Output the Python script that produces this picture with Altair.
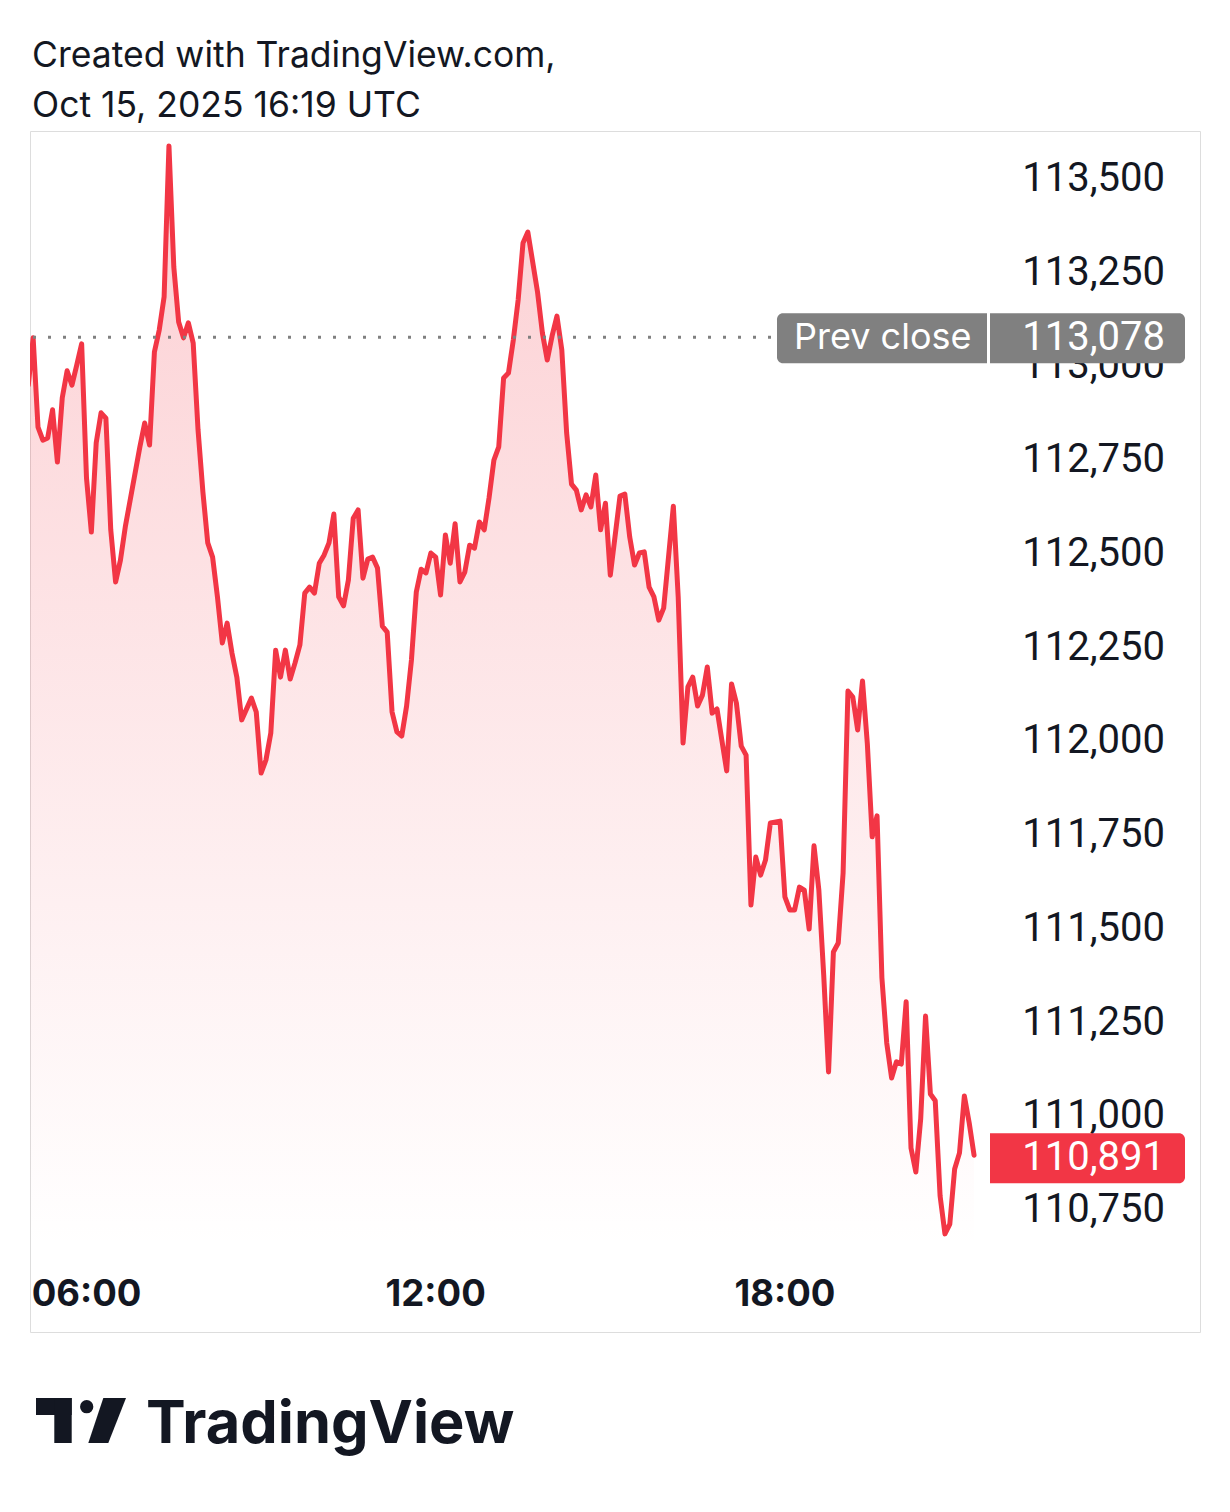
import altair as alt
import pandas as pd

# ---------------- data ----------------
times = [
    "05:00", "05:05", "05:10", "05:15", "05:20", "05:25", "05:30", "05:35", "05:40", "05:45", "05:50", "05:55",
    "06:00", "06:05", "06:10", "06:15", "06:20", "06:25", "06:30", "06:35", "06:40", "06:55",
    "07:00", "07:05", "07:10", "07:15", "07:20", "07:25", "07:30", "07:35", "07:40", "07:45", "07:50", "07:55",
    "08:00", "08:05", "08:10", "08:15", "08:20", "08:25", "08:30", "08:35", "08:40", "08:50", "08:55",
    "09:00", "09:05", "09:10", "09:15", "09:20", "09:25", "09:30", "09:35", "09:40", "09:45", "09:50", "09:55",
    "10:00", "10:05", "10:10", "10:15", "10:20", "10:25", "10:30", "10:35", "10:40", "10:45", "10:50", "10:55",
    "11:00", "11:05", "11:10", "11:15", "11:20", "11:25", "11:30", "11:35", "11:40", "11:45", "11:50", "11:55",
    "12:00", "12:05", "12:10", "12:15", "12:20", "12:25", "12:30", "12:35", "12:40", "12:45", "12:50", "12:55",
    "13:00", "13:05", "13:10", "13:15", "13:20", "13:25", "13:30", "13:35", "13:40", "13:45", "13:50", "13:55",
    "14:00", "14:05", "14:10", "14:15", "14:20", "14:25", "14:30", "14:35", "14:40", "14:45", "14:50", "14:55",
    "15:00", "15:10", "15:15", "15:20", "15:25", "15:30", "15:35", "15:40", "15:45", "15:50", "15:55",
    "16:00", "16:05", "16:10", "16:15", "16:20", "16:25", "16:30", "16:35", "16:40", "16:45", "16:50", "16:55",
    "17:00", "17:05", "17:10", "17:15", "17:20", "17:25", "17:30", "17:35", "17:40", "17:45", "17:55",
    "18:00", "18:05", "18:10", "18:15", "18:20", "18:25", "18:30", "18:35", "18:40", "18:45", "18:50", "18:55",
    "19:00", "19:05", "19:10", "19:15", "19:20", "19:25", "19:30", "19:35", "19:40", "19:45", "19:50", "19:55",
    "20:00", "20:05", "20:10", "20:15", "20:20", "20:25", "20:30", "20:35", "20:40", "20:45", "20:50", "20:55",
    "21:00", "21:05", "21:10", "21:15",
]
prices = [
    112945, 113071, 112833, 112798, 112804, 112879, 112740, 112911, 112983, 112945, 112999, 113055,
    112697, 112553, 112791, 112871, 112857, 112559, 112420, 112478, 112567, 112780,
    112844, 112785, 113033, 113092, 113180, 113583, 113260, 113113, 113071, 113111, 113057, 112825,
    112660, 112524, 112486, 112380, 112257, 112310, 112230, 112166, 112052, 112110, 112073,
    111910, 111945, 112017, 112238, 112166, 112238, 112161, 112204, 112252, 112390, 112406, 112390,
    112470, 112492, 112524, 112601, 112380, 112356, 112425, 112590, 112612, 112430, 112481, 112486,
    112457, 112302, 112286, 112073, 112020, 112009, 112089, 112212, 112393, 112454, 112444, 112497,
    112486, 112385, 112545, 112470, 112575, 112420, 112446, 112518, 112510, 112580, 112559, 112644,
    112745, 112780, 112964, 112977, 113065, 113172, 113324, 113353, 113273, 113193, 113084, 113012,
    113076, 113129, 113039, 112817, 112681, 112665, 112612, 112652, 112620, 112705, 112559, 112630,
    112438, 112649, 112654, 112540, 112465, 112497, 112500, 112406, 112380, 112318, 112350,
    112486, 112622, 112380, 111990, 112140, 112166, 112089, 112118, 112193, 112070, 112081, 111998,
    111916, 112148, 112097, 111982, 111958, 111558, 111686, 111638, 111678, 111777, 111782,
    111580, 111545, 111545, 111606, 111598, 111494, 111716, 111598, 111372, 111113, 111433, 111457,
    111644, 112129, 112113, 112025, 112156, 111988, 111740, 111796, 111364, 111190, 111097, 111140,
    111134, 111300, 110910, 110846, 110988, 111262, 111054, 111036, 110782, 110681, 110707, 110854,
    110897, 111049, 110977, 110891,
]
price_ticks = [110750, 111000, 111250, 111500, 111750, 112000,
               112250, 112500, 112750, 113000, 113250, 113500]
time_ticks = [6, 12, 18]
time_labels = ["06:00", "12:00", "18:00"]
prev_close = 113078
last_price = 110891
pane_bottom_price = 110640
prev_close_name = "Prev close"
header = ["Created with TradingView.com,", "Oct 15, 2025 16:19 UTC"]
brand = "TradingView"

# ---------------- style ----------------
RED = "#F23645"
GRAY = "#808080"
INK = "#131722"
FONT = "Inter"
NUMFONT = "Roboto"
W, H = 1170, 1201

df = pd.DataFrame({"time": times, "price": prices})
df["hour"] = df["time"].str.slice(0, 2).astype(int) + df["time"].str.slice(3, 5).astype(int) / 60

xs = alt.Scale(domain=[5.0292, 25.1323], nice=False, zero=False)
ys = alt.Scale(domain=[110419.3, 113622.7], nice=False, zero=False)
X = alt.X("hour:Q", scale=xs, axis=None)
Y = alt.Y("price:Q", scale=ys, axis=None)

grad = alt.Gradient(
    gradient="linear", x1=0, x2=0, y1=0, y2=1,
    stops=[alt.GradientStop(color="rgba(242,54,69,0.24)", offset=0),
           alt.GradientStop(color="rgba(242,54,69,0.0)", offset=1)],
)

area = alt.Chart(df).mark_area(clip=True, color=grad).encode(
    x=X, y=Y, y2=alt.Y2(datum=pane_bottom_price))
line = alt.Chart(df).mark_line(clip=True, color=RED, strokeWidth=5,
                               strokeJoin="round", strokeCap="round").encode(x=X, y=Y)

ticks_df = pd.DataFrame({"price": price_ticks, "label": [f"{v:,}" for v in price_ticks]})
ptext = alt.Chart(ticks_df).mark_text(align="right", baseline="middle", font=NUMFONT, dy=2,
                                      fontSize=40, color=INK).encode(
    y=Y, x=alt.value(1135), text="label:N")

tdf = pd.DataFrame({"hour": time_ticks, "label": time_labels})
ttext = alt.Chart(tdf).mark_text(align="center", baseline="alphabetic", font=FONT,
                                 fontWeight="bold", fontSize=36.5, color=INK).encode(
    x=X, y=alt.value(1175), text="label:N")

pc = pd.DataFrame({"price": [prev_close], "label": [f"{prev_close:,}"], "name": [prev_close_name]})
pc_rule = alt.Chart(pc).mark_rule(strokeDash=[3, 12], strokeWidth=3, color=GRAY, yOffset=2).encode(
    y=Y, x=alt.value(3), x2=alt.value(747))
pc_box1 = alt.Chart(pc).mark_rect(color=GRAY, yOffset=-22, y2Offset=28,
                                  cornerRadiusTopLeft=6, cornerRadiusBottomLeft=6).encode(
    y=Y, y2=alt.Y2("price"), x=alt.value(747), x2=alt.value(957))
pc_box2 = alt.Chart(pc).mark_rect(color=GRAY, yOffset=-22, y2Offset=28,
                                  cornerRadiusTopRight=6, cornerRadiusBottomRight=6).encode(
    y=Y, y2=alt.Y2("price"), x=alt.value(960), x2=alt.value(1155))
pc_t1 = alt.Chart(pc).mark_text(align="left", baseline="middle", font=FONT, fontSize=36, dy=3,
                                color="white").encode(y=Y, x=alt.value(764), text="name:N")
pc_t2 = alt.Chart(pc).mark_text(align="right", baseline="middle", font=NUMFONT, fontSize=40, dy=3,
                                color="white").encode(y=Y, x=alt.value(1135), text="label:N")

lp = pd.DataFrame({"price": [last_price], "label": [f"{last_price:,}"]})
lp_box = alt.Chart(lp).mark_rect(color=RED, yOffset=-22, y2Offset=28,
                                 cornerRadiusTopRight=6, cornerRadiusBottomRight=6).encode(
    y=Y, y2=alt.Y2("price"), x=alt.value(960), x2=alt.value(1155))
lp_t = alt.Chart(lp).mark_text(align="right", baseline="middle", font=NUMFONT, fontSize=40, dy=3,
                               color="white").encode(y=Y, x=alt.value(1135), text="label:N")

h1 = alt.Chart(pd.DataFrame({"t": [header[0]]})).mark_text(
    align="left", baseline="alphabetic", font=FONT, fontSize=35.5, color=INK).encode(
    x=alt.value(2), y=alt.value(-64), text="t:N")
h2 = alt.Chart(pd.DataFrame({"t": [header[1]]})).mark_text(
    align="left", baseline="alphabetic", font=FONT, fontSize=35.5, color=INK).encode(
    x=alt.value(2), y=alt.value(-14), text="t:N")

one = pd.DataFrame({"a": [0]})
logo_bar = alt.Chart(one).mark_rect(color=INK).encode(
    x=alt.value(6), x2=alt.value(41.7), y=alt.value(1267), y2=alt.value(1284))
logo_stem = alt.Chart(one).mark_rect(color=INK).encode(
    x=alt.value(24.3), x2=alt.value(41.7), y=alt.value(1267), y2=alt.value(1312))
logo_dot = alt.Chart(one).mark_point(shape="circle", filled=True, size=177, opacity=1,
                                     color=INK).encode(x=alt.value(56.7), y=alt.value(1275.7))
logo_slant = alt.Chart(one).mark_point(shape="M-0.142,-1L0.867,-1L0.08,1L-0.809,1Z",
                                       filled=True, size=2025, opacity=1, color=INK).encode(
    x=alt.value(76.5), y=alt.value(1289.5))
logo_text = alt.Chart(pd.DataFrame({"t": [brand]})).mark_text(
    align="left", baseline="alphabetic", font=FONT, fontWeight=700, fontSize=59.5,
    color=INK).encode(x=alt.value(116), y=alt.value(1312), text="t:N")

chart = alt.layer(
    area, line, pc_rule, ptext, pc_box1, pc_box2, pc_t1, pc_t2, lp_box, lp_t,
    ttext, h1, h2, logo_bar, logo_stem, logo_dot, logo_slant, logo_text,
).properties(
    width=W, height=H,
    autosize=alt.AutoSizeParams(type="none"),
    padding={"left": 22, "top": 123, "right": 22, "bottom": 172},
).configure_view(stroke="#EEEEEE", strokeWidth=2).configure(background="white")

chart.save("out.html", embed_options={"renderer": "svg", "actions": False})
